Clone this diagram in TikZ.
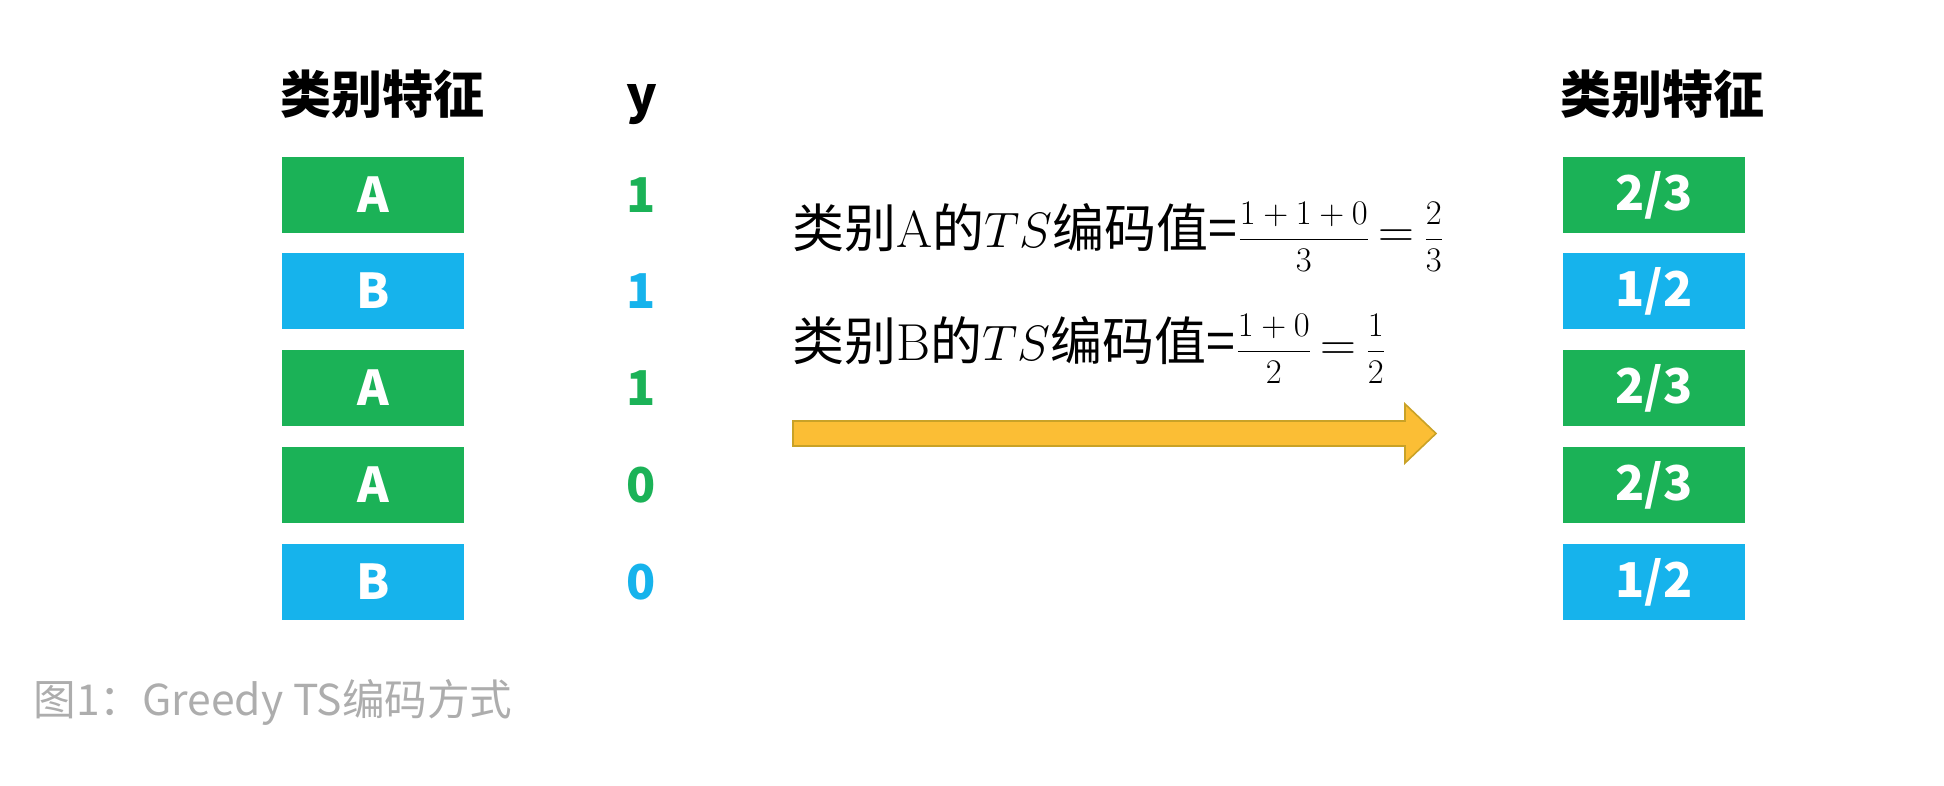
\documentclass[tikz,border=0pt]{standalone}
\usepackage{fontspec}
\usepackage{amsmath}
\newfontfamily\cjk{Noto Sans CJK SC}
\usetikzlibrary{positioning}
\definecolor{catgreen}{HTML}{1BB257}
\definecolor{catblue}{HTML}{16B3EC}
\definecolor{arrfill}{HTML}{FBBE35}
\definecolor{arrline}{HTML}{C9A227}
\definecolor{capgray}{HTML}{ADADAD}
\newcommand{\fracpart}[1]{{\fontsize{16}{16}\selectfont$#1$}}

\begin{document}
\begin{tikzpicture}[x=0.5pt,y=-0.5pt,
every node/.style={inner sep=0pt},
catbox/.style={minimum width=91pt, minimum height=38pt, text=white,
  font=\cjk\bfseries\fontsize{24}{24}\selectfont},
colhead/.style={anchor=base, font=\cjk\bfseries\fontsize{25.5}{26}\selectfont},
yval/.style={font=\cjk\bfseries\fontsize{24}{24}\selectfont},
tsline/.style={anchor=base west, font=\cjk\fontsize{26}{30}\selectfont}]
\useasboundingbox (0,0) rectangle (1944,786);
% left column
\node[colhead] (hdrL) at (382,114) {类别特征};
\node[colhead] (hdrY) at (642,114) {y};
\node[catbox,fill=catgreen] (a1) at (373,195) {A};
\node[catbox,fill=catblue] (a2) at (373,291) {B};
\node[catbox,fill=catgreen] (a3) at (373,388) {A};
\node[catbox,fill=catgreen] (a4) at (373,485) {A};
\node[catbox,fill=catblue] (a5) at (373,582) {B};
\node[yval,text=catgreen] (v1) at (641,195) {1};
\node[yval,text=catblue] (v2) at (641,291) {1};
\node[yval,text=catgreen] (v3) at (641,388) {1};
\node[yval,text=catgreen] (v4) at (641,485) {0};
\node[yval,text=catblue] (v5) at (641,582) {0};
% formulas
\node[tsline] (fA) at (792,248) {类别\rmfamily A\cjk 的$TS$编码值=\fracpart{\dfrac{1+1+0}{3}}\,$=$\,\fracpart{\dfrac{2}{3}}};
\node[tsline] (fB) at (792,360) {类别\rmfamily B\cjk 的$TS$编码值=\fracpart{\dfrac{1+0}{2}}\,$=$\,\fracpart{\dfrac{1}{2}}};
\draw[fill=arrfill,draw=arrline,line width=0.8pt]
  (793,421) -- (1405,421) -- (1405,404) -- (1436,433.5) -- (1405,463)
  -- (1405,446) -- (793,446) -- cycle;
% right column
\node[colhead] (hdrR) at (1662,114) {类别特征};
\node[catbox,fill=catgreen] (r1) at (1654,195) {2/3};
\node[catbox,fill=catblue] (r2) at (1654,291) {1/2};
\node[catbox,fill=catgreen] (r3) at (1654,388) {2/3};
\node[catbox,fill=catgreen] (r4) at (1654,485) {2/3};
\node[catbox,fill=catblue] (r5) at (1654,582) {1/2};
% caption
\node[anchor=west,text=capgray,font=\cjk\fontsize{21.3}{22}\selectfont] (cap) at (33,702) {图1：Greedy TS编码方式};
\end{tikzpicture}
\end{document}
